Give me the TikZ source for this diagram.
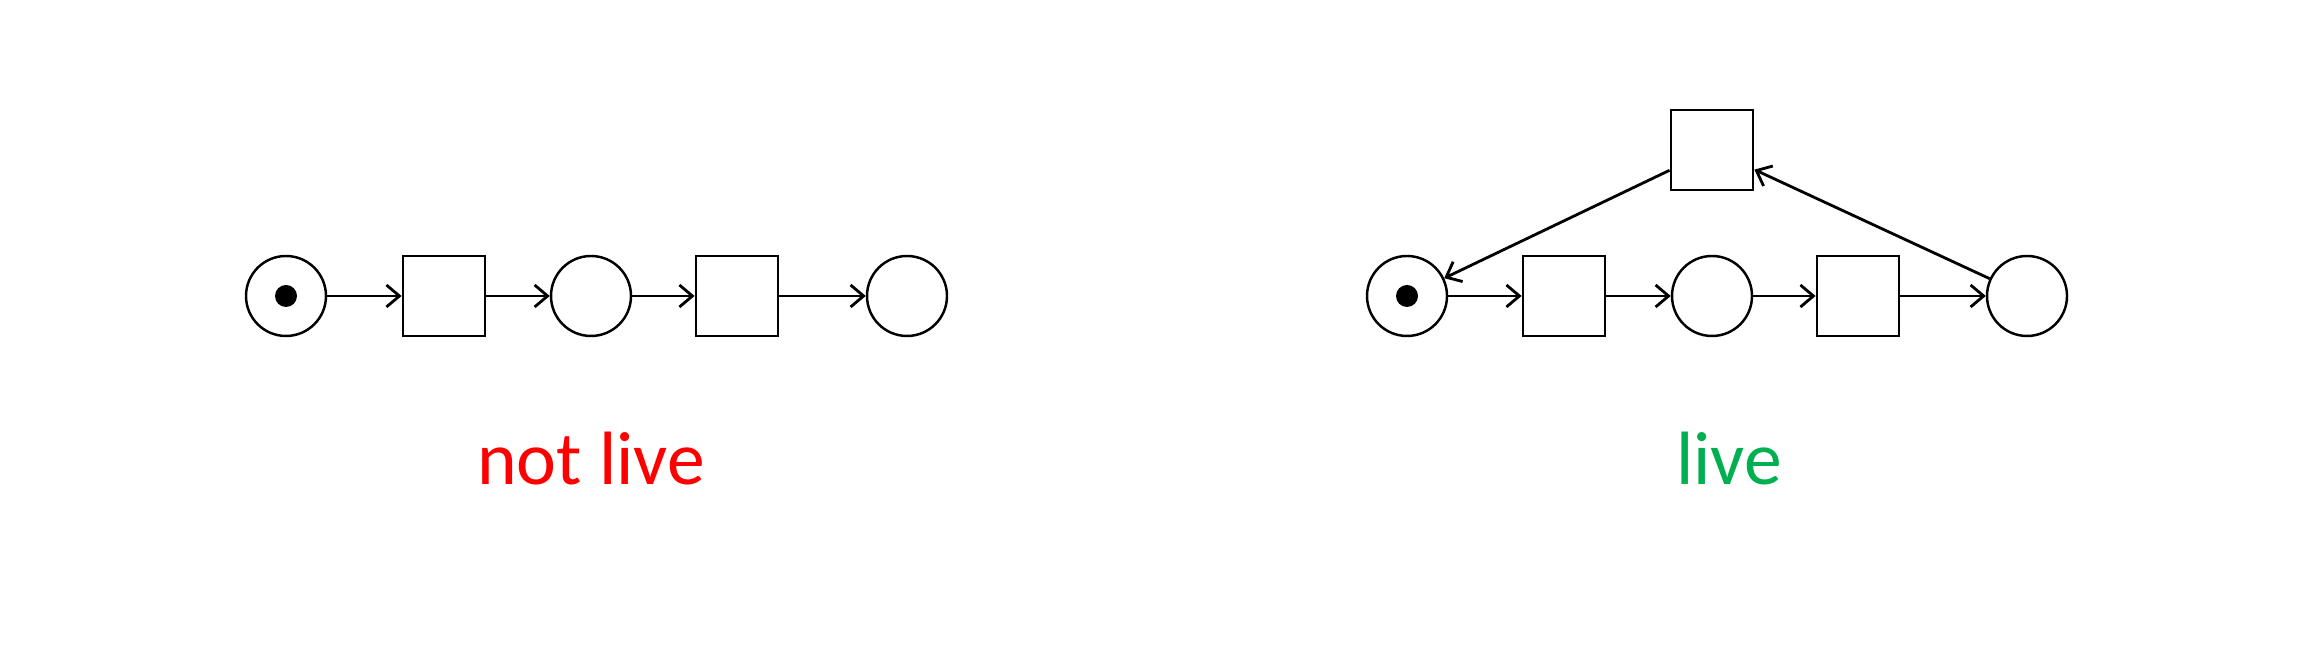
\documentclass[tikz,border=0pt]{standalone}
\usepackage{fontspec}
\setmainfont{Carlito}
\usetikzlibrary{shapes, arrows.meta}
\tikzstyle{place} = [circle, 
minimum size=0.8cm, 
inner sep=0pt, 
draw=black, 
line width=0.7pt]
\tikzstyle{transition} = [rectangle, 
minimum width=0.82cm, 
minimum height=0.8cm, 
inner sep=0pt, 
draw=black, 
line width=0.8pt]
\tikzstyle{token} = [circle, 
minimum size=0.22cm, 
inner sep=0pt, 
fill=black]
\tikzstyle{label} = [font=\fontsize{21.5}{26}\selectfont]
\tikzstyle{arrow} = [line width=0.8pt,-{Straight Barb[length=1.3mm,width=2.2mm]}]

\begin{document}
\begin{tikzpicture}[node distance=1.5cm]
\useasboundingbox (0,0) rectangle (22.98,6.62);

% not live
\node (p1) [place] at (2.86,3.66) {};
\node (tok1) [token] at (p1) {};
\node (t1) [transition, right of=p1, xshift=0.08cm] {};
\node (p2) [place, right of=t1, xshift=-0.03cm] {};
\node (t2) [transition, right of=p2, xshift=-0.04cm] {};
\node (p3) [place, right of=t2, xshift=0.2cm] {};
\node (lbl1) [label, text=red, below of=p2, yshift=-0.13cm] {not live};

\draw [arrow] (p1) -- (t1);
\draw [arrow] (t1) -- (p2);
\draw [arrow] (p2) -- (t2);
\draw [arrow] (t2) -- (p3);

% live
\node (p4) [place] at (14.07,3.66) {};
\node (tok2) [token] at (p4) {};
\node (t3) [transition, right of=p4, xshift=0.07cm] {};
\node (p5) [place, right of=t3, xshift=-0.02cm] {};
\node (t4) [transition, right of=p5, xshift=-0.04cm] {};
\node (p6) [place, right of=t4, xshift=0.19cm] {};
\node (t5) [transition, above of=p5, yshift=-0.04cm] {};
\node (lbl2) [label, text={rgb,255:red,0;green,176;blue,80}, below of=p5, xshift=0.17cm, yshift=-0.13cm] {live};

\draw [arrow] (p4) -- (t3);
\draw [arrow] (t3) -- (p5);
\draw [arrow] (p5) -- (t4);
\draw [arrow] (t4) -- (p6);
\draw [arrow] (p6) -- (t5);
\draw [arrow] (t5) -- (p4);

\end{tikzpicture}
\end{document}
